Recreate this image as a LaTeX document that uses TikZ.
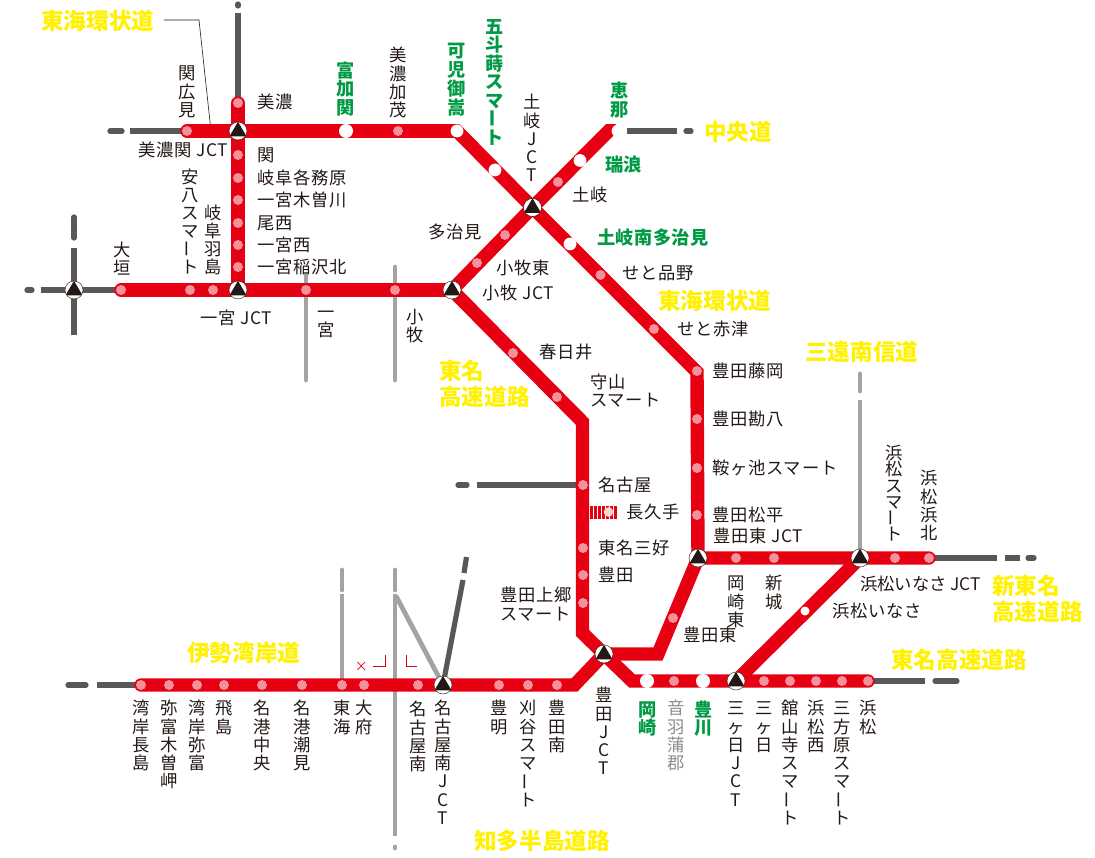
\documentclass[tikz,border=0pt]{standalone}
\usepackage{fontspec}
\usepackage{graphicx}
\setmainfont{Noto Sans CJK JP}
\pgfdeclarelayer{bg}
\pgfsetlayers{bg,main}
\definecolor{rd}{HTML}{E60012}
\definecolor{pk}{HTML}{F3929C}
\definecolor{dk}{HTML}{595757}
\definecolor{gy}{HTML}{A3A3A3}
\definecolor{tx}{HTML}{231815}
\definecolor{yl}{HTML}{FFF100}
\definecolor{gn}{HTML}{009944}
\definecolor{gt}{HTML}{8C8C8C}
\ExplSyntaxOn
\NewDocumentCommand\vt{O{18.3pt}m}{
  \vbox{\offinterlineskip
    \tl_map_inline:nn{#2}{
      \hbox to 22pt{\hss\vbox to #1{\vss
        \hbox{\str_if_eq:nnTF{##1}{ー}{\rotatebox[origin=c]{90}{ー}}{\rule{0pt}{.88em}\rule[-.12em]{0pt}{.12em}##1}}
      \vss}\hss}
    }
  }
}
\ExplSyntaxOff
\tikzset{
  redline/.style={draw=rd,line width=13.4pt,line cap=round,line join=miter},
  darkline/.style={draw=dk,line width=5.2pt,line cap=round},
  greyline/.style={draw=gy,line width=4.8pt,line cap=round},
  dotp/.style={circle,inner sep=0pt,minimum size=10pt,fill=pk},
  dotw/.style={circle,inner sep=0pt,minimum size=12.8pt,fill=white},
  dotb/.style={circle,inner sep=0pt,minimum size=14pt,fill=white},
  dots/.style={circle,inner sep=0pt,minimum size=9pt,fill=white},
  jct/.style={circle,inner sep=0pt,minimum size=18pt,fill=white,draw=tx,line width=.4pt,
    path picture={\fill[tx] (path picture bounding box.center) ++(0,-9.2) -- ++(-8.5,14.5) -- ++(17,0) -- cycle;}},
  lab/.style={anchor=west,inner sep=0pt,text height=15.2pt,text depth=2.1pt,text=tx,font=\fontsize{17.3pt}{18pt}\selectfont\addfontfeature{LetterSpace=4.5}},
  labt/.style={lab,font=\fontsize{17.3pt}{18pt}\selectfont},
  lg/.style={lab,text height=16pt,text depth=2.2pt,text=gn,font=\fontsize{18.2pt}{19pt}\selectfont\bfseries\addfontfeature{LetterSpace=2.5}},
  ly/.style={lab,text height=19.8pt,text depth=2.7pt,text=yl,font=\fontsize{22.6pt}{24pt}\selectfont\bfseries},
  vl/.style={anchor=north,inner sep=0pt,yshift=#1/2,text=tx,font=\fontsize{17.3pt}{18pt}\selectfont},
  vl/.default=18.3pt,
  vg/.style={vl=18.5pt,text=gn,font=\fontsize{18.2pt}{19pt}\selectfont\bfseries},
}
\begin{document}
\begin{tikzpicture}[x=1pt,y=-1pt]
\useasboundingbox (0,0) rectangle (1095,858);
% junctions
\node[jct] (jMinoseki) at (238,131) {};
\node[jct] (jIchinomiya) at (238,290) {};
\node[jct] (jOgaki) at (74,290) {};
\node[jct] (jToki) at (532.5,207.5) {};
\node[jct] (jKomaki) at (452,290) {};
\node[jct] (jToyotahigashi) at (698,558) {};
\node[jct] (jInasa) at (860,558) {};
\node[jct] (jToyota) at (604,654) {};
\node[jct] (jMikkabi) at (736,681) {};
\node[jct] (jNagoyaminami) at (443,685) {};
% stations, north
\node[dotp] (sMino) at (238,103) {};
\node[dotp] (sSekihiromi) at (187,131) {};
\node[dotb] (sTomika) at (346,131) {};
\node[dotp] (sMinokamo) at (398,131) {};
\node[dotw] (sKani) at (457,131) {};
\node[dotw] (sGoto) at (495,170) {};
\node[dotw] (sTokiminami) at (570,244) {};
\node[dotp] (sSetoshinano) at (600.5,275) {};
\node[dotp] (sSetoakazu) at (654,329) {};
\node[dotp] (sFujioka) at (697,371) {};
\node[dotp] (sKanpachi) at (697,419) {};
\node[dotp] (sKuragaike) at (697,468) {};
\node[dotp] (sMatsudaira) at (697,515) {};
\foreach \n/\y in {sSeki/155,sKakamigahara/178,sKisogawa/200,sBisai/223,sIchiwest/245,sInazawa/267}
  \node[dotp] (\n) at (238,\y) {};
\node[dotp] (sOgaki) at (121,290) {};
\node[dotp] (sAnpachi) at (190,290) {};
\node[dotp] (sHashima) at (213,290) {};
\node[dotp] (sIchinomiya) at (306,290) {};
\node[dotp] (sKomaki) at (395,290) {};
\node[dotp] (sKomakihigashi) at (477,263) {};
\node[dotp] (sTajimi) at (505,235) {};
\node[dotp] (sTokist) at (558,182) {};
\node[dotw] (sMizunami) at (580,160.5) {};
\node[dotw] (sEna) at (618,131) {};
% Tomei
\node[dotp] (sKasugai) at (513,353) {};
\node[dotp] (sMoriyama) at (557,397) {};
\node[dotp] (sNagoya) at (583,485) {};
\node[dotp] (sMiyoshi) at (583,548) {};
\node[dotp] (sToyota) at (583,575) {};
\node[dotp] (sKamigo) at (583,603) {};
\node[dotp] (sToyotahigashi) at (673,618) {};
\node[dotb] (sOkazaki) at (647,681) {};
\node[dotp] (sOtowa) at (674,681) {};
\node[dotb] (sToyokawa) at (703,681) {};
\foreach \n/\x in {sMikkabi/764,sKanzanji/790,sHamamatsuw/816,sMikatahara/842,sHamamatsu/868}
  \node[dotp] (\n) at (\x,681) {};
\node[dotp] (sOkazakihigashi) at (736,558) {};
\node[dotp] (sShinshiro) at (774,558) {};
\node[dotp] (sHamasmart) at (895,558) {};
\node[dotp] (sHamakita) at (929,558) {};
\node[dots] (sInasa) at (805,611) {};
% Isewangan
\foreach \n/\x in {sNagashima/141,sKisosaki/169,sYatomi/197,sTobishima/224,sChuo/262,sShiomi/302,sTokai/342,sObu/364,sNagoyaminami/418,sToyoake/499,sKariya/528,sToyotaminami/557}
  \node[dotp] (\n) at (\x,685) {};
% free ends and bends
\coordinate (cKA) at (697,372);
\coordinate (cMA) at (582.5,422);
\coordinate (cMB) at (582.5,633);
\coordinate (cTA) at (658,654);
\coordinate (cTB) at (632,681);
\coordinate (cIA) at (574.5,685);
\coordinate (cEnd) at (615.5,124);
\begin{pgfonlayer}{bg}
\draw[darkline] (110,131) coordinate (a1) -- (122,131) coordinate (a2);
\draw[darkline,line cap=butt] (130,131) coordinate (a3) -- (sSekihiromi.center);
\draw[darkline] (238,4) coordinate (a4) -- (238,6) coordinate (a5);
\draw[darkline,line cap=butt] (238,13) coordinate (a6) -- (sMino.center);
\draw[darkline] (27,290) coordinate (a7) -- (32,290) coordinate (a8);
\draw[darkline,line cap=butt] (41,290) coordinate (a9) -- (sOgaki.center);
\draw[darkline] (74,217) coordinate (b1) -- (74,238) coordinate (b2);
\draw[darkline,line cap=butt] (74,248) coordinate (b3) -- (74,335) coordinate (b4);
\draw[darkline,line cap=butt] (627,131) coordinate (b5) -- (677,131) coordinate (b6);
\draw[darkline] (686,131) coordinate (b7) -- (691,131) coordinate (b8);
\draw[darkline] (458,485) coordinate (b9) -- (467,485) coordinate (c1);
\draw[darkline,line cap=butt] (477,485) coordinate (c2) -- (sNagoya.center);
\draw[darkline] (68,685) coordinate (c3) -- (86,685) coordinate (c4);
\draw[darkline,line cap=butt] (97,685) coordinate (c5) -- (sNagashima.center);
\draw[darkline,line cap=butt] (466.5,557) coordinate (c6) -- (464,573) coordinate (c7);
\draw[darkline,line cap=butt] (463,580) coordinate (c8) -- (jNagoyaminami.center);
\draw[darkline,line cap=butt] (sHamakita.center) -- (997,558) coordinate (c9);
\draw[darkline,line cap=butt] (1005,558) coordinate (d1) -- (1020,558) coordinate (d2);
\draw[darkline] (1028,558) coordinate (d3) -- (1034,558) coordinate (d4);
\draw[darkline,line cap=butt] (sHamamatsu.center) -- (925,681) coordinate (d5);
\draw[darkline] (935,681) coordinate (d6) -- (957,681) coordinate (d7);
\draw[greyline] (306,275) coordinate (e1) -- (306,380) coordinate (e2);
\draw[greyline] (395,267) coordinate (e3) -- (395,380) coordinate (e4);
\draw[greyline] (860,374) coordinate (e5) -- (860,391) coordinate (e6);
\draw[greyline,line cap=butt] (860,400) coordinate (e7) -- (jInasa.center);
\draw[greyline] (342,570) coordinate (f1) -- (342,590) coordinate (f2);
\draw[greyline,line cap=butt] (342,594) coordinate (f3) -- (sTokai.center);
\draw[greyline] (395,570) coordinate (f4) -- (395,590) coordinate (f5);
\draw[greyline,line cap=butt] (395,594) coordinate (f6) -- (395,836) coordinate (f7);
\draw[greyline] (395,847) coordinate (f8) -- (395,848) coordinate (f9);
\draw[greyline,line cap=butt] (396,596) coordinate (g1) -- (jNagoyaminami.center);
\draw[draw=tx,line width=.6pt] (164,20) coordinate (h1) -- (199,20) coordinate (h2) -- (211,131) coordinate (h3);
% expressway
\draw[redline] (sSekihiromi.center) -- (sKani.center);
\draw[redline,line join=miter] (sKani.center) -- (jToki.center) -- (cKA) -- (jToyotahigashi.center);
\draw[redline] (sMino.center) -- (jIchinomiya.center);
\draw[redline] (sOgaki.center) -- (jKomaki.center);
\begin{scope}
\clip (440,125) rectangle (640,300);
\draw[redline,line cap=butt] (jKomaki.center) -- (jToki.center) -- (cEnd);
\end{scope}
\draw[redline] (jKomaki.center) -- (cMA) -- (cMB) -- (jToyota.center) -- (cTB) -- (sHamamatsu.center);
\draw[redline] (jToyota.center) -- (cTA) -- (jToyotahigashi.center) -- (sHamakita.center);
\draw[redline] (jInasa.center) -- (jMikkabi.center);
\draw[redline] (sNagashima.center) -- (cIA) -- (jToyota.center);
\end{pgfonlayer}
% Nagakute stripes
\foreach \x in {591.5,595.5,599.5,603.5,607.5,611.5,615.5}
  \fill[rd] (\x-1.1,506) rectangle (\x+1.1,519);
\node[circle,inner sep=0pt,minimum size=9.6pt,fill=pk!40] (sNagakute) at (608.5,512) {};
% small marks
\draw[rd,line width=.7pt] (357.5,662) -- (365,670) (365,662) -- (357.5,670);
\draw[rd,line width=.7pt] (373,666) -- (385,666) -- (385,655);
\draw[rd,line width=.7pt] (406,655) -- (406,666) -- (417,666);
% horizontal labels
\node[ly] (lLoopA) at (41,21) {東海環状道};
\node[ly] (lChuo) at (704,132) {中央道};
\node[ly] (lLoopB) at (658,301) {東海環状道};
\node[ly] (lSanen) at (805,352) {三遠南信道};
\node[ly] (lTomeiA) at (439,371) {東名};
\node[ly] (lTomeiB) at (439,397) {高速道路};
\node[ly] (lShintomeiA) at (992,586) {新東名};
\node[ly] (lShintomeiB) at (992,612) {高速道路};
\node[ly] (lTomeiC) at (891,660) {東名高速道路};
\node[ly] (lIse) at (187,653) {伊勢湾岸道};
\node[ly] (lChita) at (474,841) {知多半島道路};
\node[lg] (lMizunami) at (605,165) {瑞浪};
\node[lg] (lTokiminami) at (597,238) {土岐南多治見};
\node[lab] (lMino) at (257,102) {美濃};
\node[lab] (lMinosekiJ) at (138,150) {美濃関 JCT};
\node[lab] (lSeki) at (257,155) {関};
\node[lab] (lKaka) at (257,178) {岐阜各務原};
\node[lab] (lKiso) at (257,200) {一宮木曽川};
\node[lab] (lBisai) at (257,223) {尾西};
\node[lab] (lIchiw) at (257,245) {一宮西};
\node[lab] (lInaz) at (257,267) {一宮稲沢北};
\node[lab] (lIchiJ) at (200,318) {一宮 JCT};
\node[lab] (lToki) at (572,195) {土岐};
\node[lab] (lTajimi) at (428,232) {多治見};
\node[lab] (lSetoS) at (622,273) {せと品野};
\node[lab] (lKomakiH) at (496,268) {小牧東};
\node[lab] (lKomakiJ) at (482,293) {小牧 JCT};
\node[lab] (lSetoA) at (677,329) {せと赤津};
\node[lab] (lFuji) at (712,371) {豊田藤岡};
\node[lab] (lKan) at (712,419) {豊田勘八};
\node[lab] (lKura) at (712,468) {鞍ヶ池スマート};
\node[lab] (lMatsu) at (712,515) {豊田松平};
\node[lab] (lToyoHJ) at (713,536) {豊田東 JCT};
\node[lab] (lKasu) at (539,352) {春日井};
\node[lab] (lMoriA) at (590,382) {守山};
\node[lab] (lMoriB) at (590,400) {スマート};
\node[lab] (lNagoya) at (598,485) {名古屋};
\node[lab] (lNagakute) at (626,512) {長久手};
\node[lab] (lMiyoshi) at (598,548) {東名三好};
\node[lab] (lToyota) at (598,575) {豊田};
\node[lab] (lKamigoA) at (500,595) {豊田上郷};
\node[lab] (lKamigoB) at (500,614) {スマート};
\node[lab] (lToyoH) at (683,635) {豊田東};
\node[labt] (lInasaJ) at (860,584) {浜松いなさ JCT};
\node[lab] (lInasa) at (832,611) {浜松いなさ};
% vertical labels
\node[vl] (vSeki) at (187,73) {\vt{関広見}};
\node[vl=18pt] (vAnpachi) at (190,177) {\vt[18pt]{安八スマート}};
\node[vl=18pt] (vHashima) at (213,213) {\vt[18pt]{岐阜羽島}};
\node[vl=18pt] (vOgaki) at (122,250) {\vt[18pt]{大垣}};
\node[vg] (vTomika) at (346,70) {\vt[18.5pt]{富加関}};
\node[vl] (vKamo) at (398,55) {\vt{美濃加茂}};
\node[vg] (vKani) at (457,50) {\vt[18.9pt]{可児御嵩}};
\node[vg] (vGoto) at (495,26) {\vt[18.5pt]{五斗蒔スマート}};
\node[vl] (vTokiJ) at (532,102) {\vt{土岐JCT}};
\node[vg] (vEna) at (620,90) {\vt[18.9pt]{恵那}};
\node[vl=18pt] (vIchi) at (326,312) {\vt[18pt]{一宮}};
\node[vl=18pt] (vKomaki) at (415,317) {\vt[18pt]{小牧}};
\node[vl] (vOkaH) at (736,583) {\vt{岡崎東}};
\node[vl] (vShin) at (774,583) {\vt{新城}};
\node[vl=16.2pt] (vHamaS) at (894,453) {\vt[16.2pt]{浜松スマート}};
\node[vl] (vHamaK) at (929,478) {\vt{浜松浜北}};
\node[vl] (v1) at (141,708) {\vt{湾岸長島}};
\node[vl] (v2) at (169,708) {\vt{弥富木曽岬}};
\node[vl] (v3) at (197,708) {\vt{湾岸弥富}};
\node[vl] (v4) at (224,708) {\vt{飛島}};
\node[vl] (v5) at (262,708) {\vt{名港中央}};
\node[vl] (v6) at (302,708) {\vt{名港潮見}};
\node[vl] (v7) at (342,708) {\vt{東海}};
\node[vl] (v8) at (364,708) {\vt{大府}};
\node[vl] (v9) at (418,709) {\vt{名古屋南}};
\node[vl] (v10) at (443,708) {\vt{名古屋南JCT}};
\node[vl] (v11) at (499,708) {\vt{豊明}};
\node[vl] (v12) at (528,708) {\vt{刈谷スマート}};
\node[vl] (v13) at (557,708) {\vt{豊田南}};
\node[vl] (v14) at (604,695) {\vt{豊田JCT}};
\node[vg] (v15) at (648,709) {\vt[18.3pt]{岡崎}};
\node[vl,text=gt] (v16) at (676,708) {\vt{音羽蒲郡}};
\node[vg] (v17) at (704,709) {\vt[18.3pt]{豊川}};
\node[vl] (v18) at (736,708) {\vt{三ヶ日JCT}};
\node[vl] (v19) at (764,708) {\vt{三ヶ日}};
\node[vl] (v20) at (790,708) {\vt{舘山寺スマート}};
\node[vl] (v21) at (816,708) {\vt{浜松西}};
\node[vl] (v22) at (842,708) {\vt{三方原スマート}};
\node[vl] (v23) at (868,708) {\vt{浜松}};
\end{tikzpicture}
\end{document}
